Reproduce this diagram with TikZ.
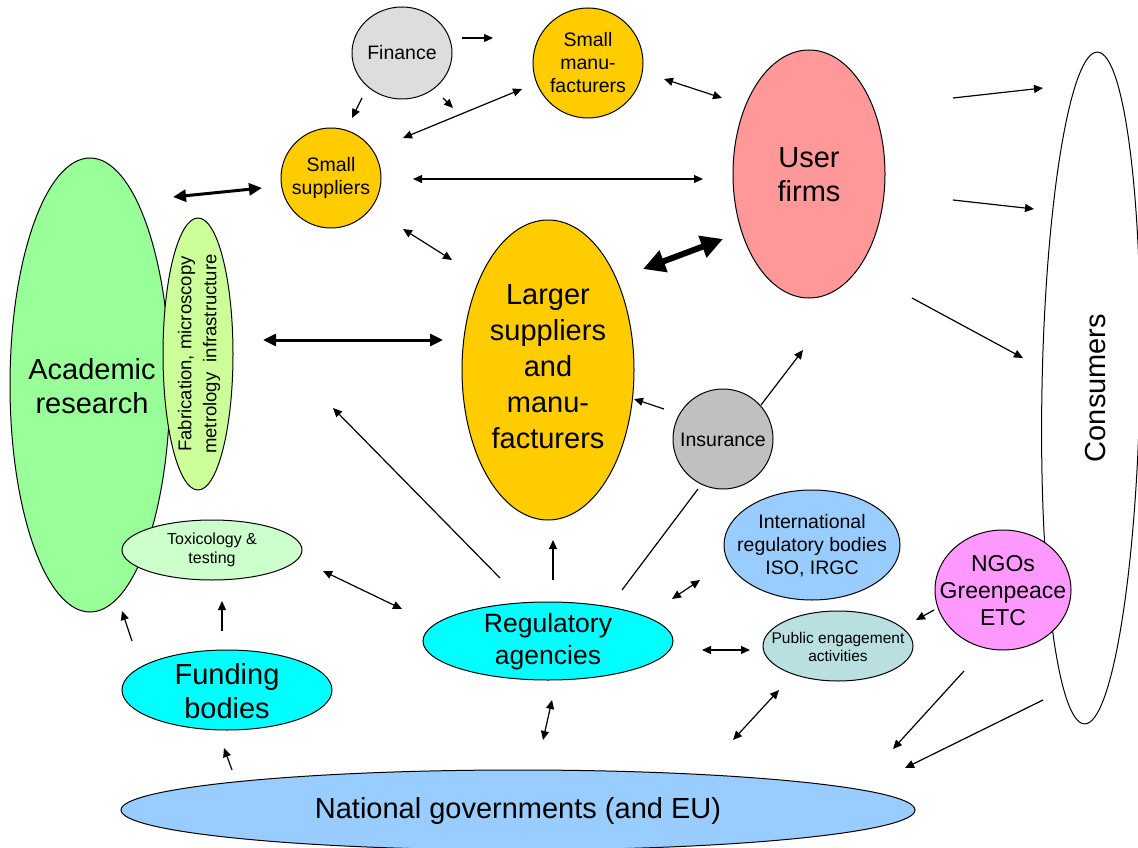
\documentclass[tikz,border=0pt]{standalone}
\usepackage{fontspec}
\setmainfont{Liberation Sans}
\usetikzlibrary{shapes.geometric,arrows.meta}
\definecolor{acadc}{HTML}{99FF99}
\definecolor{fabc}{HTML}{CCFF99}
\definecolor{toxc}{HTML}{CCFFCC}
\definecolor{cyanc}{HTML}{00FFFF}
\definecolor{finc}{HTML}{DDDDDD}
\definecolor{goldc}{HTML}{FFCC00}
\definecolor{userc}{HTML}{FF9999}
\definecolor{insc}{HTML}{C0C0C0}
\definecolor{bluec}{HTML}{99CCFF}
\definecolor{ngoc}{HTML}{FF99FF}
\definecolor{pubc}{HTML}{B9DFE1}
\begin{document}
\begin{tikzpicture}[x=1pt,y=-1pt,
  blob/.style={ellipse, draw=black, line width=1pt, inner sep=0pt},
  big/.style={align=center, font=\fontsize{29}{34}\selectfont, inner sep=0pt},
  mid/.style={align=center, font=\fontsize{19.5}{23}\selectfont, inner sep=0pt},
  ngot/.style={align=center, font=\fontsize{23}{27}\selectfont, inner sep=0pt},
  sml/.style={align=center, font=\fontsize{16}{19}\selectfont, inner sep=0pt},
  arr/.style={line width=1.2pt, -{Triangle[length=9pt,width=8pt]}},
  darr/.style={line width=1.2pt, {Triangle[length=9pt,width=8pt]}-{Triangle[length=9pt,width=8pt]}},
  plain/.style={line width=1.2pt},
  tarr/.style={line width=3pt, {Triangle[length=13pt,width=12pt]}-{Triangle[length=13pt,width=12pt]}},
  xarr/.style={line width=6pt, {Triangle[length=22pt,width=22pt]}-{Triangle[length=22pt,width=22pt]}},
]
\useasboundingbox (0,0) rectangle (1138,848);
% shapes
\node[blob, fill=acadc, minimum width=160pt, minimum height=454pt] (acad) at (90,385) {};
\node[big] at (92,386) {Academic\\research};
\node[blob, fill=fabc, minimum width=70pt, minimum height=272pt] (fab) at (198,354) {};
\node[mid, rotate=90, font=\fontsize{18.5}{25}\selectfont] at (199,354) {Fabrication, microscopy\\metrology\ \ infrastructure};
\node[blob, fill=toxc, minimum width=180pt, minimum height=60pt] (tox) at (212,550) {};
\node[sml] at (212,550) {Toxicology \&\\testing};
\node[blob, fill=cyanc, minimum width=210pt, minimum height=80pt] (fund) at (227,690) {};
\node[big] at (227,691) {Funding\\bodies};
\node[blob, fill=finc, minimum width=100pt, minimum height=92pt] (fin) at (402,53) {};
\node[mid] at (402,53) {Finance};
\node[blob, fill=goldc, minimum width=110pt, minimum height=110pt] (smanu) at (588,63) {};
\node[mid] at (588,63) {Small\\manu-\\facturers};
\node[blob, fill=goldc, minimum width=100pt, minimum height=100pt] (ssup) at (331,178) {};
\node[mid] at (331,178) {Small\\suppliers};
\node[blob, fill=userc, minimum width=152pt, minimum height=248pt] (user) at (809,174) {};
\node[big] at (809,175) {User\\firms};
\node[blob, fill=goldc, minimum width=172pt, minimum height=300pt] (large) at (548,370) {};
\node[big, font=\fontsize{29}{36}\selectfont] at (548,367) {Larger\\suppliers\\and\\manu-\\facturers};
\node[blob, fill=insc, minimum width=100pt, minimum height=100pt] (ins) at (723,439) {};
\node[mid] at (723,440) {Insurance};
\node[blob, fill=white, minimum width=98pt, minimum height=672pt, rotate=-1.1] (cons) at (1091,388) {};
\node[big, rotate=90] at (1096,388) {Consumers};
\node[blob, fill=bluec, minimum width=176pt, minimum height=110pt] (intl) at (812,545) {};
\node[mid] at (812,546) {International\\regulatory bodies\\ISO, IRGC};
\node[blob, fill=ngoc, minimum width=136pt, minimum height=120pt] (ngo) at (1003,590) {};
\node[ngot] at (1003,591) {NGOs\\Greenpeace\\ETC};
\node[blob, fill=cyanc, minimum width=250pt, minimum height=78pt] (reg) at (548,641) {};
\node[big, font=\fontsize{26.5}{32}\selectfont] at (548,642) {Regulatory\\agencies};
\node[blob, fill=pubc, minimum width=150pt, minimum height=70pt] (pub) at (838,646) {};
\node[sml, font=\fontsize{15.5}{18}\selectfont] at (838,647) {Public engagement\\activities};
\node[blob, fill=bluec, minimum width=794pt, minimum height=80pt] (nat) at (518,810) {};
\node[big] at (518,811) {National governments (and EU)};
% connector end points
\coordinate (c1a) at (173,197); \coordinate (c1b) at (262,188);
\coordinate (c2a) at (263,340); \coordinate (c2b) at (443,340);
\coordinate (c3a) at (643,269); \coordinate (c3b) at (723,239);
\coordinate (c4a) at (462,38); \coordinate (c4b) at (493,38);
\coordinate (c5a) at (362,98); \coordinate (c5b) at (352,118);
\coordinate (c6a) at (443,98); \coordinate (c6b) at (453,108);
\coordinate (c7a) at (403,138); \coordinate (c7b) at (522,89);
\coordinate (c8a) at (664,79); \coordinate (c8b) at (722,98);
\coordinate (c9a) at (413,179); \coordinate (c9b) at (703,179);
\coordinate (c10a) at (403,229); \coordinate (c10b) at (452,260);
\coordinate (c11a) at (953,98); \coordinate (c11b) at (1043,88);
\coordinate (c12a) at (953,200); \coordinate (c12b) at (1034,209);
\coordinate (c13a) at (912,298); \coordinate (c13b) at (1023,358);
\coordinate (c14a) at (664,409); \coordinate (c14b) at (634,399);
\coordinate (c15a) at (761,405); \coordinate (c15b) at (803,350);
\coordinate (c16a) at (622,590); \coordinate (c16b) at (698,489);
\coordinate (c17a) at (500,578); \coordinate (c17b) at (333,408);
\coordinate (c18a) at (553,580); \coordinate (c18b) at (553,540);
\coordinate (c19a) at (323,571); \coordinate (c19b) at (402,609);
\coordinate (c20a) at (672,599); \coordinate (c20b) at (700,580);
\coordinate (c21a) at (702,650); \coordinate (c21b) at (750,650);
\coordinate (c22a) at (934,610); \coordinate (c22b) at (916,620);
\coordinate (c23a) at (733,740); \coordinate (c23b) at (779,690);
\coordinate (c24a) at (543,740); \coordinate (c24b) at (552,700);
\coordinate (c25a) at (964,671); \coordinate (c25b) at (893,749);
\coordinate (c26a) at (1043,700); \coordinate (c26b) at (905,768);
\coordinate (c27a) at (232,770); \coordinate (c27b) at (224,748);
\coordinate (c28a) at (132,641); \coordinate (c28b) at (122,611);
\coordinate (c29a) at (222,631); \coordinate (c29b) at (222,601);
% connectors
\draw[tarr] (c1a) -- (c1b);
\draw[tarr] (c2a) -- (c2b);
\draw[xarr] (c3a) -- (c3b);
\draw[arr] (c4a) -- (c4b);
\draw[arr] (c5a) -- (c5b);
\draw[arr] (c6a) -- (c6b);
\draw[darr] (c7a) -- (c7b);
\draw[darr] (c8a) -- (c8b);
\draw[darr] (c9a) -- (c9b);
\draw[darr] (c10a) -- (c10b);
\draw[arr] (c11a) -- (c11b);
\draw[arr] (c12a) -- (c12b);
\draw[arr] (c13a) -- (c13b);
\draw[arr] (c14a) -- (c14b);
\draw[arr] (c15a) -- (c15b);
\draw[plain] (c16a) -- (c16b);
\draw[arr] (c17a) -- (c17b);
\draw[arr] (c18a) -- (c18b);
\draw[darr] (c19a) -- (c19b);
\draw[darr] (c20a) -- (c20b);
\draw[darr] (c21a) -- (c21b);
\draw[arr] (c22a) -- (c22b);
\draw[darr] (c23a) -- (c23b);
\draw[darr] (c24a) -- (c24b);
\draw[arr] (c25a) -- (c25b);
\draw[arr] (c26a) -- (c26b);
\draw[arr] (c27a) -- (c27b);
\draw[arr] (c28a) -- (c28b);
\draw[arr] (c29a) -- (c29b);
\end{tikzpicture}
\end{document}
